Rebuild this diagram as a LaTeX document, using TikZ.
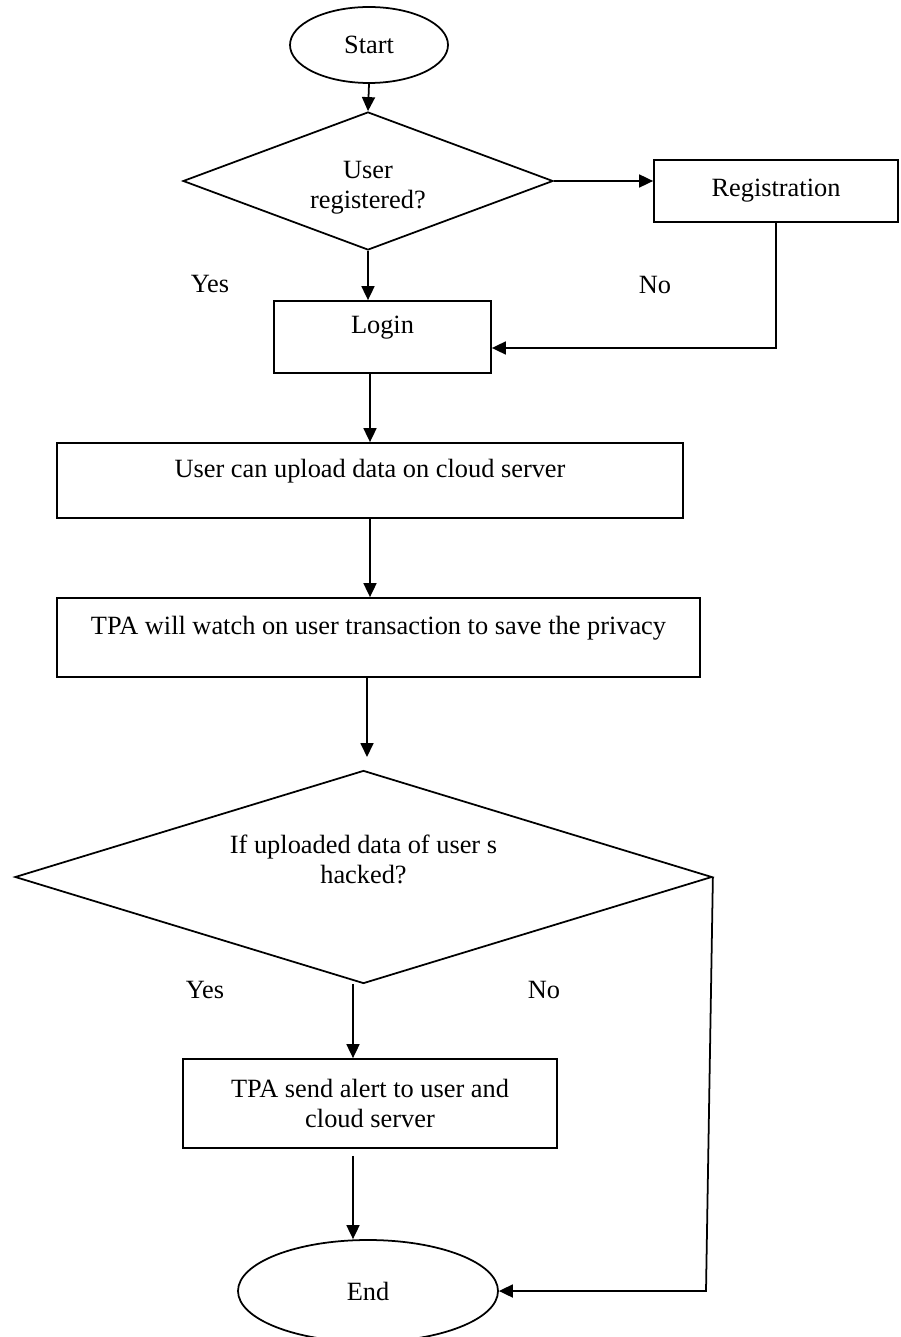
\documentclass[tikz,border=0pt]{standalone}
\usepackage{fontspec}
\setmainfont{Liberation Serif}
\usetikzlibrary{shapes.geometric,arrows.meta}

\begin{document}
\begin{tikzpicture}[
  line width=1pt,
  every node/.style={font=\fontsize{15}{17}\selectfont},
  term/.style={draw, ellipse, inner sep=1pt},
  box/.style={draw, rectangle},
  topbox/.style={box, text depth=0.5cm},
  decide/.style={draw, diamond, inner sep=1pt, align=center},
  arrow/.style={-{Triangle[length=0.28cm,width=0.26cm]}}
]
\useasboundingbox (0,0) rectangle (18,-26.74);

% Start + registered?
\node[term, minimum width=3.16cm, minimum height=1.52cm] (start) at (7.38,-0.9) {Start};
\node[decide, aspect=2.68, minimum width=7.4cm, minimum height=2.76cm] (regq) at (7.36,-3.62) {\rule{0pt}{0.6cm}User\\registered?};
\node[box, minimum width=4.88cm, minimum height=1.24cm] (reg) at (15.52,-3.82) {Registration};
\node (yesa) at (4.2,-5.68) {Yes};
\node (noa) at (13.1,-5.7) {No};

% Login and the two steps
\node[topbox, minimum width=4.34cm, minimum height=1.44cm] (login) at (7.65,-6.74) {Login};
\node[topbox, minimum width=12.52cm, minimum height=1.5cm] (upload) at (7.4,-9.61) {User can upload data on cloud server};
\node[topbox, minimum width=12.86cm, minimum height=1.58cm] (watch) at (7.57,-12.75) {TPA will watch on user transaction to save the privacy};

% hacked?
\node[decide, aspect=3.27, minimum width=13.94cm, minimum height=4.26cm] (hackq) at (7.27,-17.54) {If uploaded data of user s\\hacked?\rule[-0.7cm]{0pt}{0pt}};
\node (yesb) at (4.1,-19.8) {Yes};
\node (nob) at (10.88,-19.8) {No};

% alert + End
\node[box, align=center, minimum width=7.48cm, minimum height=1.78cm] (alert) at (7.4,-22.07) {TPA send alert to user and\\cloud server};
\node[term, minimum width=5.2cm, minimum height=2.04cm] (finish) at (7.36,-25.82) {End};

\coordinate (regturn) at (15.52,-6.96);
\coordinate (watchend) at (7.34,-15.14);
\coordinate (noturn) at (14.12,-25.82);

% connectors
\draw[arrow] (start.south) -- (regq.north);
\draw[arrow] (regq.east) -- (regq.east -| reg.west);
\draw[arrow] (reg.south) -- (regturn) -- (regturn -| login.east);
\draw[arrow] (regq.south) -- (regq.south |- login.north);
\draw[arrow] (login.south -| upload.north) -- (upload.north);
\draw[arrow] (upload.south) -- (upload.south |- watch.north);
\draw[arrow] (watch.south -| watchend) -- (watchend);
\draw[arrow] ([xshift=-0.21cm]hackq.south) -- ([xshift=-0.34cm]alert.north);
\draw[arrow] ([xshift=-0.34cm,yshift=-0.14cm]alert.south) -- ([xshift=-0.3cm]finish.north);
\draw[arrow] (hackq.east) -- (noturn) -- (finish.east);
\end{tikzpicture}
\end{document}
